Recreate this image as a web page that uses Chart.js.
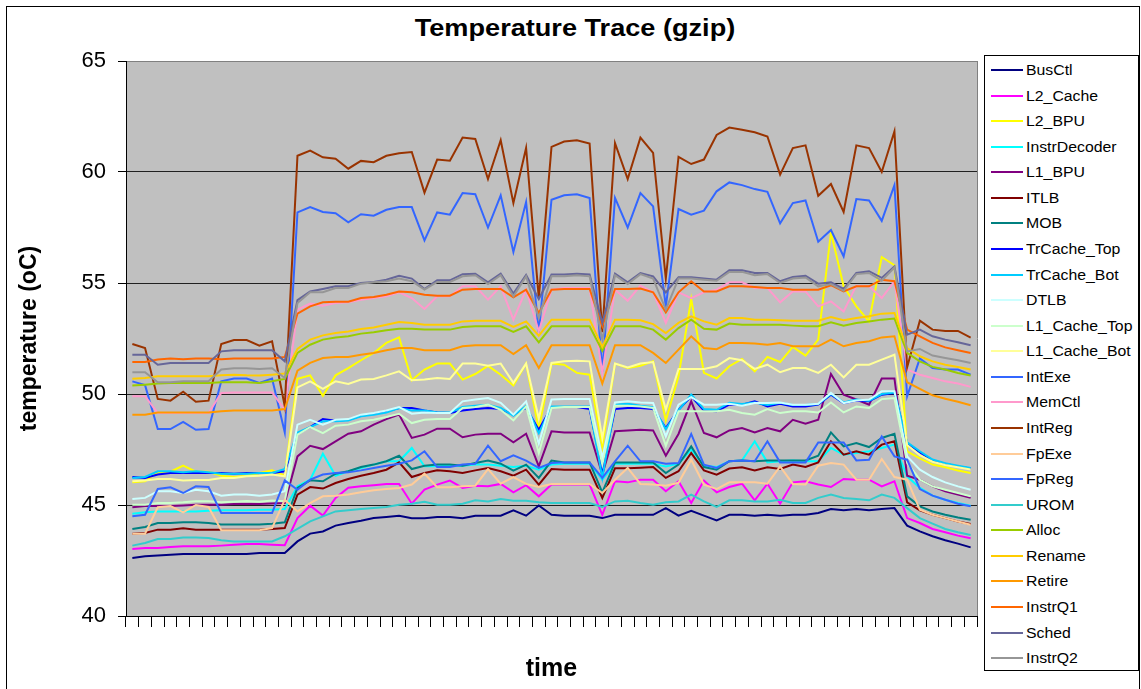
<!DOCTYPE html>
<html>
<head>
<meta charset="utf-8">
<script src="https://cdn.jsdelivr.net/npm/chart.js@4"></script>
<style>
  body { margin: 0; background: #fff; }
  #wrap { position: relative; width: 1141px; height: 689px; overflow: hidden; font-family: "Liberation Sans", Arial, sans-serif; }
  #frame { position: absolute; left: 6px; top: 6px; width: 1132px; height: 700px; border: 1px solid #000; }
  #title { position: absolute; left: 6px; width: 1138px; top: 16px; text-align: center; font-weight: bold; font-size: 24px; line-height: 23px; color: #000; transform: scaleX(1.13); transform-origin: 569px 0; }
  #c { position: absolute; left: 0; top: 0; }
  #legend { position: absolute; left: 984px; top: 55px; width: 153px; height: 614px; border: 1px solid #000; background: #fff; }
  .row { position: absolute; left: 0; height: 16px; font-size: 14px; line-height: 16px; color: #000; white-space: nowrap; }
  .row i { position: absolute; left: 6px; top: 7px; width: 32px; height: 2px; }
  .row span { position: absolute; left: 41px; top: 0; transform: scaleX(1.13); transform-origin: 0 0; }
</style>
</head>
<body>
<div id="wrap">
  <div id="frame"></div>
  <div id="title">Temperature Trace (gzip)</div>
  <canvas id="c" width="1141" height="689"></canvas>
  <div id="legend"></div>
</div>
<script>
"use strict";
// 67 sample points, tick marks sit between them (no tick labels)
const TIMES = Array.from({ length: 67 }, (_, i) => i + 1);
const Y_TICKS = [40, 45, 50, 55, 60, 65];

const BusCtl = [42.61,42.69,42.73,42.76,42.79,42.79,42.79,42.79,42.79,42.79,42.84,42.84,42.84,
  43.36,43.71,43.81,44.07,44.19,44.29,44.41,44.46,44.52,44.4,
  44.4,44.46,44.46,44.4,44.52,44.52,44.52,44.76,44.52,44.98,44.56,44.52,44.52,44.52,44.41,44.56,44.56,44.56,44.56,44.86,44.52,44.74,44.52,
  44.31,44.56,44.56,44.52,44.56,44.52,44.56,44.56,44.64,44.82,44.76,44.82,44.76,44.82,44.86,
  44.07,43.81,43.59,43.41,43.26,43.09];
const L2_Cache = [43.02,43.06,43.06,43.11,43.14,43.14,43.14,43.17,43.21,43.24,43.24,43.21,43.19,
  44.41,44.97,44.52,45.32,45.78,45.84,45.89,45.95,45.95,45.06,
  45.69,45.92,46.1,45.77,45.87,45.84,45.95,45.57,45.89,45.39,45.92,45.92,45.92,45.92,44.56,46.07,46.02,46.14,46.14,45.62,46.07,45.09,46.1,
  45.57,45.81,45.96,45.21,45.96,45.06,46.02,46.07,45.92,45.81,46.17,46.14,46.14,45.84,46.07,
  44.41,44.19,43.92,43.77,43.62,43.5];
const L2_BPU = [46.02,46.07,46.47,46.5,46.77,46.5,46.5,46.32,46.26,46.32,46.44,46.56,46.32,
  50.68,50.84,49.92,50.84,51.17,51.52,51.85,52.3,52.55,50.62,
  51.1,51.37,51.37,50.65,50.9,51.27,50.87,50.38,51.37,48.4,51.37,51.32,50.95,50.87,47.6,51.37,51.17,51.27,51.47,48.8,50.8,54.28,50.95,
  50.7,51.25,51.58,51.02,51.67,51.44,52.12,51.73,52.45,57.28,54.85,53.95,53.27,56.17,55.8,
  47.42,47.1,46.82,46.7,46.55,46.44];
const InstrDecoder = [44.61,44.67,44.71,44.71,44.71,44.71,44.74,44.76,44.76,44.76,44.79,44.79,44.82,
  45.84,46.14,47.31,46.32,46.52,46.67,46.82,46.97,46.97,47.57,
  46.74,46.74,46.77,46.77,46.82,46.82,46.77,46.71,46.77,46.59,46.82,46.86,46.86,46.86,46.14,46.86,46.86,46.86,46.86,46.74,46.86,47.5,46.77,
  46.71,46.97,47.01,47.87,46.92,46.97,47.01,46.97,46.97,47.57,47.27,47.34,47.42,47.57,47.72,
  46.29,45.77,45.42,45.24,45.09,44.97];
const L1_BPU = [44.9,44.95,44.95,44.95,44.98,45.01,45.01,45.01,45.04,45.04,45.04,45.07,45.09,
  47.19,47.67,47.52,47.87,48.21,48.32,48.62,48.87,49.07,48.02,
  48.17,48.44,48.44,48.05,48.17,48.21,48.21,47.82,48.21,46.74,48.32,48.27,48.27,48.27,46.37,48.32,48.36,48.39,48.36,47.22,48.2,49.67,48.24,
  48.05,48.36,48.47,48.27,48.47,48.32,48.84,48.66,48.84,50.9,49.97,49.75,49.52,50.7,50.7,
  46.32,46.14,45.84,45.62,45.47,45.32];
const ITLB = [43.71,43.74,43.89,43.89,43.95,43.89,43.89,43.89,43.89,43.89,43.89,43.92,43.96,
  45.47,45.81,45.74,45.99,46.17,46.32,46.44,46.59,46.92,46.26,
  46.44,46.56,46.52,46.44,46.56,46.67,46.52,46.32,46.59,45.92,46.62,46.59,46.59,46.59,45.32,46.65,46.65,46.68,46.71,46.22,46.52,47.34,46.56,
  46.37,46.64,46.7,46.55,46.7,46.62,46.82,46.71,46.92,47.87,47.27,47.42,47.27,47.72,47.87,
  45.12,44.76,44.56,44.41,44.26,44.14];
const MOB = [43.92,44.01,44.19,44.19,44.22,44.22,44.19,44.12,44.12,44.12,44.12,44.16,44.22,
  45.77,46.11,46.07,46.41,46.52,46.71,46.82,46.97,47.22,46.62,
  46.77,46.82,46.82,46.77,46.89,47.0,46.86,46.55,46.82,46.22,47.0,46.92,46.92,46.92,45.57,46.92,46.92,46.92,46.92,46.44,46.82,47.64,46.71,
  46.59,46.97,47.01,46.97,47.01,47.01,47.01,47.01,47.22,48.27,47.64,47.79,47.61,48.02,48.21,
  45.39,44.94,44.71,44.56,44.44,44.34];
const TrCache_Top = [46.26,46.22,46.37,46.44,46.44,46.44,46.44,46.44,46.41,46.44,46.44,46.44,46.52,
  48.21,48.51,48.87,48.8,48.84,49.02,49.11,49.22,49.37,49.37,
  49.26,49.17,49.14,49.26,49.32,49.37,49.32,49.07,49.37,48.39,49.41,49.41,49.41,49.32,46.52,49.32,49.37,49.37,49.32,48.47,49.29,49.9,49.26,
  49.22,49.52,49.52,49.67,49.44,49.56,49.44,49.44,49.52,49.97,49.59,49.71,49.67,49.97,50.05,
  47.79,47.37,47.01,46.86,46.74,46.64];
const TrCache_Bot = [46.22,46.26,46.52,46.52,46.47,46.52,46.47,46.41,46.41,46.41,46.44,46.44,46.62,
  48.27,48.51,48.77,48.77,48.81,49.0,49.07,49.17,49.37,49.26,
  49.26,49.17,49.17,49.41,49.47,49.52,49.37,49.02,49.47,48.24,49.44,49.44,49.44,49.44,46.22,49.52,49.56,49.47,49.41,48.42,49.26,49.97,49.32,
  49.29,49.6,49.55,49.62,49.5,49.6,49.5,49.5,49.55,50.0,49.62,49.75,49.7,50.0,50.07,
  47.82,47.42,47.05,46.88,46.77,46.67];
const DTLB = [45.27,45.32,45.62,45.62,45.54,45.69,45.62,45.42,45.47,45.47,45.42,45.47,45.62,
  48.62,48.84,48.62,48.84,48.87,49.07,49.14,49.26,49.41,49.11,
  49.17,49.14,49.14,49.67,49.75,49.82,49.6,49.07,49.67,47.76,49.75,49.78,49.78,49.78,47.12,49.62,49.67,49.62,49.6,48.09,49.52,49.86,49.52,
  49.52,49.56,49.47,49.59,49.59,49.62,49.52,49.52,49.56,50.05,49.59,49.71,49.75,50.12,50.12,
  47.19,46.59,46.26,46.02,45.84,45.69];
const L1_Cache_Top = [45.01,45.01,45.09,45.09,45.12,45.17,45.17,45.12,45.15,45.18,45.15,45.2,45.17,
  48.17,48.51,48.24,48.57,48.62,48.77,48.84,48.96,49.11,48.69,
  48.84,48.87,48.87,49.37,49.41,49.52,49.29,48.81,49.44,47.34,49.37,49.41,49.41,49.41,46.82,49.47,49.47,49.44,49.37,47.67,49.22,49.22,49.22,
  49.22,49.29,49.14,49.07,49.32,49.14,49.22,49.22,49.17,49.62,49.17,49.44,49.37,49.77,49.82,
  46.9,46.14,45.84,45.69,45.54,45.39];
const L1_Cache_Bot = [46.07,46.1,46.17,46.17,46.1,46.13,46.13,46.22,46.22,46.29,46.32,46.37,46.29,
  50.3,50.57,50.23,50.57,50.45,50.65,50.68,50.84,51.02,50.62,
  50.65,50.72,50.68,51.37,51.37,51.27,51.37,50.5,51.37,48.9,51.4,51.47,51.5,51.47,48.0,51.37,51.2,51.37,51.44,49.3,51.13,51.13,51.13,
  51.25,51.62,51.52,51.13,51.32,50.98,51.17,51.17,50.95,51.32,50.75,51.32,51.32,51.55,51.77,
  47.7,47.25,46.95,46.8,46.7,46.6];
const IntExe = [50.57,50.4,48.42,48.42,48.74,48.39,48.42,50.57,50.7,50.7,50.5,50.7,48.27,
  58.18,58.42,58.2,58.14,57.73,58.1,58.03,58.3,58.42,58.42,
  56.92,58.18,58.08,59.05,59.0,57.5,58.95,56.4,58.65,52.78,58.75,58.95,59.0,58.83,51.0,58.83,57.5,59.05,58.45,53.95,58.33,58.08,58.26,
  59.13,59.53,59.41,59.23,59.11,57.69,58.6,58.72,56.86,57.39,56.2,58.78,58.72,57.8,59.41,
  49.9,51.6,51.17,51.1,51.1,50.87];
const MemCtl = [49.9,49.9,49.14,49.14,49.14,49.14,49.14,50.05,50.07,50.07,50.07,50.07,49.3,
  53.8,54.07,53.98,54.1,54.13,54.25,54.32,54.4,54.58,54.32,
  53.83,54.4,54.4,54.85,54.85,54.25,54.85,53.35,54.7,52.82,54.7,54.78,54.78,54.78,50.95,54.7,54.2,54.88,54.58,53.2,54.58,54.32,54.58,
  54.7,55.03,55.03,54.78,54.78,54.13,54.62,54.62,53.95,54.17,53.72,54.88,54.85,54.32,55.08,
  51.1,50.87,50.72,50.57,50.47,50.32];
const IntReg = [52.25,52.07,49.78,49.7,50.1,49.65,49.7,52.25,52.43,52.43,52.18,52.37,49.45,
  60.73,60.96,60.66,60.6,60.15,60.5,60.44,60.73,60.84,60.9,
  59.07,60.56,60.51,61.55,61.49,59.68,61.43,58.6,61.08,54.32,61.13,61.37,61.43,61.28,52.78,61.3,59.68,61.55,60.86,55.2,60.68,60.36,60.56,
  61.67,62.0,61.9,61.79,61.6,59.88,61.08,61.2,58.93,59.46,58.2,61.2,61.08,60.0,61.83,
  51.2,53.3,52.9,52.84,52.84,52.54];
const FpExe = [43.71,43.71,44.9,44.95,44.67,45.0,44.91,43.86,43.86,43.86,43.86,43.96,45.24,
  44.71,45.09,45.39,45.42,45.47,45.57,45.66,45.72,45.77,45.92,
  46.41,45.8,45.8,45.84,45.87,46.62,45.96,46.26,45.95,45.81,45.95,45.95,45.95,45.95,45.54,46.14,46.67,45.95,45.92,45.87,46.0,47.04,45.92,
  45.72,46.02,46.02,46.02,45.96,46.74,45.95,45.92,46.77,46.89,46.82,46.14,46.14,47.07,46.26,
  46.14,44.79,44.56,44.41,44.26,44.11];
const FpReg = [44.49,44.56,45.72,45.8,45.54,45.84,45.81,44.64,44.64,44.64,44.64,44.64,46.11,
  45.69,46.14,46.37,46.44,46.47,46.56,46.67,46.77,46.86,47.01,
  47.42,46.71,46.71,46.82,46.86,47.67,46.97,47.24,47.0,46.67,46.89,46.92,46.92,46.92,46.22,46.97,47.67,46.97,46.97,46.86,46.89,48.2,46.82,
  46.67,46.97,47.01,46.97,47.87,46.92,46.92,46.92,47.82,47.82,47.82,47.01,47.04,48.09,47.19,
  47.04,45.72,45.42,45.24,45.06,44.94];
const UROM = [43.17,43.29,43.47,43.47,43.54,43.54,43.51,43.41,43.36,43.36,43.36,43.36,43.59,
  43.92,44.26,44.49,44.71,44.76,44.82,44.86,44.91,45.01,45.06,
  45.15,45.01,45.01,45.06,45.21,45.16,45.27,45.19,45.19,45.12,45.09,45.09,45.09,45.09,44.91,45.16,45.19,45.09,45.01,45.12,45.16,45.47,45.16,
  44.91,45.21,45.21,45.16,45.16,45.24,45.09,45.09,45.32,45.47,45.32,45.27,45.21,45.47,45.32,
  44.86,44.41,44.16,43.92,43.77,43.65];
const Alloc = [50.38,50.42,50.47,50.5,50.5,50.5,50.5,50.53,50.53,50.53,50.5,50.57,50.68,
  51.85,52.22,52.45,52.55,52.6,52.72,52.78,52.87,52.94,52.94,
  52.9,52.9,52.9,53.02,53.05,53.05,53.05,52.8,53.05,52.33,53.05,53.05,53.05,53.05,51.95,53.05,53.05,53.05,52.9,52.45,52.97,53.35,52.94,
  52.9,53.17,53.12,53.12,53.12,53.12,53.08,53.05,53.05,53.23,53.08,53.2,53.27,53.35,53.4,
  51.85,51.47,51.22,51.1,50.95,50.83];
const Rename = [50.69,50.72,50.8,50.8,50.8,50.8,50.8,50.84,50.87,50.84,50.83,50.87,50.92,
  52.03,52.45,52.64,52.75,52.82,52.93,53.0,53.12,53.24,53.2,
  53.12,53.12,53.12,53.27,53.3,53.3,53.3,53.02,53.27,52.63,53.35,53.35,53.35,53.35,52.12,53.35,53.35,53.32,53.15,52.75,53.2,53.5,53.27,
  53.12,53.42,53.42,53.35,53.35,53.32,53.3,53.3,53.3,53.47,53.32,53.42,53.5,53.62,53.65,
  52.07,51.7,51.47,51.32,51.22,51.1];
const Retire = [49.07,49.07,49.17,49.17,49.17,49.17,49.17,49.22,49.26,49.26,49.26,49.26,49.32,
  51.05,51.4,51.62,51.67,51.67,51.77,51.85,51.97,52.07,52.07,
  51.97,51.97,51.97,52.15,52.2,52.2,52.2,51.8,52.2,51.17,52.2,52.2,52.2,52.2,50.47,52.2,52.2,52.2,51.85,51.4,52.0,52.6,52.07,
  52.02,52.3,52.3,52.27,52.22,52.3,52.15,52.15,52.15,52.45,52.15,52.3,52.38,52.55,52.6,
  50.53,50.23,49.94,49.79,49.65,49.49];
const InstrQ1 = [51.44,51.44,51.55,51.6,51.57,51.6,51.6,51.57,51.6,51.6,51.6,51.6,51.67,
  53.62,53.95,54.13,54.16,54.16,54.32,54.37,54.47,54.62,54.58,
  54.47,54.43,54.43,54.7,54.73,54.73,54.73,54.35,54.7,53.65,54.7,54.73,54.73,54.73,53.05,54.73,54.73,54.75,54.58,53.68,54.58,55.08,54.62,
  54.62,54.85,54.85,54.82,54.78,54.78,54.7,54.7,54.7,54.9,54.62,54.85,54.85,55.15,55.08,
  52.9,52.6,52.3,52.1,51.97,51.85];
const Sched = [51.77,51.77,51.32,51.4,51.4,51.4,51.4,51.92,51.97,51.97,51.97,51.97,51.47,
  54.23,54.62,54.73,54.85,54.85,55.0,55.05,55.15,55.33,55.2,
  54.73,55.12,55.12,55.4,55.42,55.03,55.42,54.52,55.36,54.28,55.38,55.38,55.42,55.38,53.2,55.42,55.03,55.45,55.3,54.58,55.26,55.26,55.2,
  55.15,55.57,55.57,55.45,55.45,55.08,55.27,55.33,54.97,55.03,54.73,55.45,55.53,55.23,55.75,
  52.67,52.9,52.6,52.45,52.33,52.2];
const InstrQ2 = [50.98,50.98,50.53,50.53,50.57,50.57,50.57,51.1,51.16,51.16,51.13,51.16,50.72,
  54.1,54.58,54.58,54.77,54.77,54.97,55.03,55.08,55.2,55.08,
  54.7,55.05,55.05,55.3,55.35,54.95,55.35,54.4,55.3,53.42,55.3,55.3,55.35,55.3,52.45,55.35,54.95,55.4,55.2,53.8,55.2,55.2,55.15,
  55.1,55.5,55.5,55.35,55.4,55.0,55.2,55.25,54.85,54.95,54.65,55.4,55.45,55.1,55.7,
  51.92,52.03,51.73,51.62,51.52,51.4];

const SERIES = [
  ["BusCtl", BusCtl, "#000080"],
  ["L2_Cache", L2_Cache, "#ff00ff"],
  ["L2_BPU", L2_BPU, "#ffff00"],
  ["InstrDecoder", InstrDecoder, "#00ffff"],
  ["L1_BPU", L1_BPU, "#800080"],
  ["ITLB", ITLB, "#800000"],
  ["MOB", MOB, "#008080"],
  ["TrCache_Top", TrCache_Top, "#0000ff"],
  ["TrCache_Bot", TrCache_Bot, "#00ccff"],
  ["DTLB", DTLB, "#ccffff"],
  ["L1_Cache_Top", L1_Cache_Top, "#ccffcc"],
  ["L1_Cache_Bot", L1_Cache_Bot, "#ffff99"],
  ["IntExe", IntExe, "#3366ff"],
  ["MemCtl", MemCtl, "#ff99cc"],
  ["IntReg", IntReg, "#993300"],
  ["FpExe", FpExe, "#ffcc99"],
  ["FpReg", FpReg, "#3366ff"],
  ["UROM", UROM, "#33cccc"],
  ["Alloc", Alloc, "#99cc00"],
  ["Rename", Rename, "#ffcc00"],
  ["Retire", Retire, "#ff9900"],
  ["InstrQ1", InstrQ1, "#ff6600"],
  ["Sched", Sched, "#666699"],
  ["InstrQ2", InstrQ2, "#969696"],
];

const FONT = "'Liberation Sans', Arial, sans-serif";

// grey plot area with the light right border, drawn under the lines
const plotBg = {
  id: "plotBg",
  beforeDraw(chart) {
    const { ctx, chartArea: a } = chart;
    ctx.save();
    ctx.fillStyle = "#c0c0c0";
    ctx.fillRect(a.left, a.top, a.right - a.left, a.bottom - a.top);
    ctx.strokeStyle = "#808080";
    ctx.lineWidth = 1;
    ctx.beginPath();
    ctx.moveTo(Math.round(a.right) + 0.5, a.top);
    ctx.lineTo(Math.round(a.right) + 0.5, a.bottom);
    ctx.stroke();
    ctx.restore();
  },
};

new Chart(document.getElementById("c"), {
  type: "line",
  data: {
    labels: TIMES,
    datasets: SERIES.map(([name, vals, col], i) => ({
      label: name, data: vals, borderColor: col, backgroundColor: col,
      borderWidth: 2, pointRadius: 0, tension: 0, fill: false,
      order: SERIES.length - i, // later series on top, as in the original
    })),
  },
  options: {
    responsive: false, animation: false, events: [],
    layout: { padding: { top: 61, right: 164, left: 0, bottom: 0 } },
    plugins: { legend: { display: false }, tooltip: { enabled: false }, title: { display: false } },
    scales: {
      x: {
        type: "category", offset: true,
        grid: { offset: true, drawOnChartArea: false, color: "#000", tickLength: 11 },
        border: { color: "#000" },
        ticks: { autoSkip: false, maxRotation: 0, callback: () => "" },
        title: { display: true, text: "time", color: "#000", font: { family: FONT, size: 25, weight: "bold" }, padding: { top: 0, bottom: 5 } },
        afterFit: (s) => { s.height = 73; },
      },
      y: {
        min: 40, max: 65,
        afterBuildTicks: (s) => { s.ticks = Y_TICKS.map((v) => ({ value: v })); },
        ticks: { color: "#000", font: { family: FONT, size: 22 }, padding: 12 },
        grid: { color: (c) => (c.tick && c.tick.value === 65 ? "#808080" : "#202020"), tickColor: "#000", tickLength: 8 },
        border: { color: "#000" },
        title: { display: true, text: "temperature (oC)", color: "#000", font: { family: FONT, size: 23, weight: "bold" }, padding: { top: 16 } },
        afterFit: (s) => { s.width = 126; },
      },
    },
  },
  plugins: [plotBg],
});

// legend box, one row per series in series order
const leg = document.getElementById("legend");
SERIES.forEach(([name, , col], i) => {
  const row = document.createElement("div");
  row.className = "row";
  row.style.top = (6 + i * 25.57) + "px";
  row.innerHTML = `<i style="background:${col}"></i><span>${name}</span>`;
  leg.appendChild(row);
});
</script>
</body>
</html>
